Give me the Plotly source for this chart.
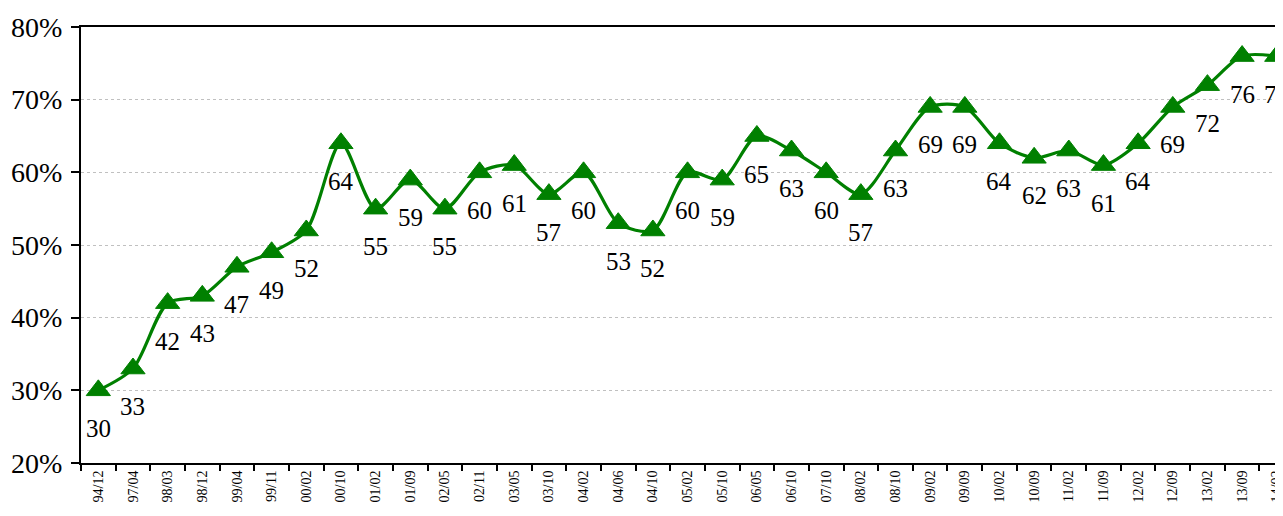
import plotly.graph_objects as go

categories = ["94/12", "97/04", "98/03", "98/12", "99/04", "99/11", "00/02", "00/10",
              "01/02", "01/09", "02/05", "02/11", "03/05", "03/10", "04/02", "04/06",
              "04/10", "05/02", "05/10", "06/05", "06/10", "07/10", "08/02", "08/10",
              "09/02", "09/09", "10/02", "10/09", "11/02", "11/09", "12/02", "12/09",
              "13/02", "13/09", "14/02"]
values = [30, 33, 42, 43, 47, 49, 52, 64, 55, 59, 55, 60, 61, 57, 60, 53, 52, 60, 59,
          65, 63, 60, 57, 63, 69, 69, 64, 62, 63, 61, 64, 69, 72, 76, 76]
y_ticks = [20, 30, 40, 50, 60, 70, 80]
y_tick_labels = [f"{v}%" for v in y_ticks]

GREEN = "#008000"
FONT = "Liberation Serif, Times New Roman, serif"

fig = go.Figure()
fig.add_trace(go.Scatter(
    x=categories, y=values, mode="lines+markers",
    line=dict(color=GREEN, width=3.2, shape="spline", smoothing=0.8),
    marker=dict(symbol="triangle-up", size=21, color=GREEN,
                line=dict(width=1, color=GREEN)),
    cliponaxis=False, hoverinfo="skip",
))

for c, v in zip(categories, values):
    fig.add_annotation(x=c, y=v, text=str(v), showarrow=False, yshift=-38,
                       font=dict(family=FONT, size=25, color="black"))

# page body has an 8px default margin, so the figure is offset by 8px
fig.update_layout(
    width=1275, height=508,
    margin=dict(l=73, r=0, t=19, b=53, autoexpand=False),
    paper_bgcolor="white", plot_bgcolor="white",
    showlegend=False,
    font=dict(family=FONT, color="black"),
)
fig.update_xaxes(
    type="category", range=[-0.5, 34.18], automargin=False,
    tickson="boundaries", ticks="outside", ticklen=6, tickwidth=2, tickcolor="black",
    tickangle=-90, tickfont=dict(family=FONT, size=14),
    showline=True, linecolor="black", linewidth=2, mirror=True,
    showgrid=False, zeroline=False,
)
fig.update_yaxes(
    range=[20, 80], tickvals=y_ticks, ticktext=y_tick_labels, automargin=False,
    ticks="outside", ticklen=8, tickwidth=2, tickcolor="black",
    tickfont=dict(family=FONT, size=28), ticklabelstandoff=3,
    showline=True, linecolor="black", linewidth=2,
    showgrid=True, gridcolor="#c0c0c0", gridwidth=1, griddash="dot",
    zeroline=False,
)

fig.write_html("out.html")
